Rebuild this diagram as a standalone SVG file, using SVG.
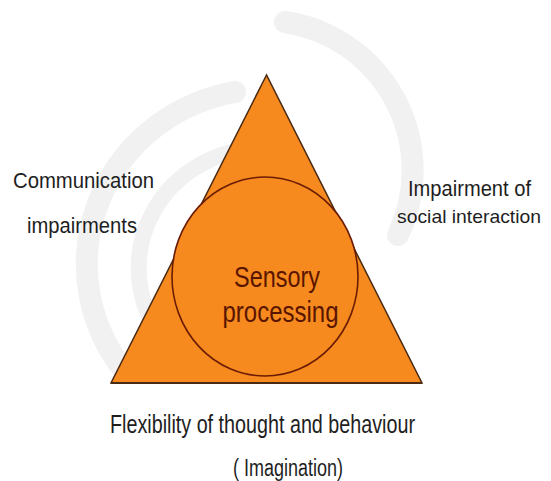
<svg xmlns="http://www.w3.org/2000/svg" width="551" height="481" viewBox="0 0 551 481">
<style>
.swirl{fill:none;stroke:#f1f1f1;stroke-linecap:round}
.lbl{font-family:"Liberation Sans",Arial,sans-serif;fill:#1e1e1e}
.inner{font-family:"Liberation Sans",Arial,sans-serif;fill:#5a1500;text-anchor:middle}
.shape{fill:#f68a1e}
</style>
<rect width="551" height="481" fill="#ffffff"/>
<g id="background">
<path class="swirl" stroke-width="22" d="M 285 22 A 150 150 0 0 1 398 235"/>
<path class="swirl" stroke-width="22" d="M 235 92 A 180 175 0 0 0 125 372"/>
<path class="swirl" stroke-width="16" d="M 262 148 A 125 120 0 0 0 160 335"/>
<path class="swirl" stroke-width="12" d="M 252 192 A 85 80 0 0 0 190 295"/>
</g>
<g id="connectors"/>
<g id="triangle">
<polygon class="shape" points="266.5,75 111,383 422,383" stroke="#4a2a12" stroke-width="1.5" stroke-linejoin="miter"/>
<line x1="111" y1="383" x2="422" y2="383" stroke="#4a2a12" stroke-width="2.2"/>
</g>
<g id="sensory-processing">
<ellipse class="shape" cx="265" cy="276.5" rx="93" ry="99.5" stroke="#6b1c05" stroke-width="1.6"/>
<text class="inner" x="277" y="286.5" font-size="30" textLength="86" lengthAdjust="spacingAndGlyphs">Sensory</text>
<text class="inner" x="280.5" y="321.5" font-size="30" textLength="116" lengthAdjust="spacingAndGlyphs">processing</text>
</g>
<g id="communication">
<text class="lbl" x="13" y="187.5" font-size="22" textLength="141" lengthAdjust="spacingAndGlyphs">Communication</text>
<text class="lbl" x="27" y="233" font-size="22" textLength="110" lengthAdjust="spacingAndGlyphs">impairments</text>
</g>
<g id="social">
<text class="lbl" x="531" y="195.5" font-size="22" text-anchor="end" textLength="123" lengthAdjust="spacingAndGlyphs">Impairment of</text>
<text class="lbl" x="541" y="223" font-size="19" text-anchor="end" textLength="144" lengthAdjust="spacingAndGlyphs">social interaction</text>
</g>
<g id="flexibility">
<text class="lbl" x="110" y="433" font-size="25" textLength="305" lengthAdjust="spacingAndGlyphs">Flexibility of thought and behaviour</text>
<text class="lbl" x="233" y="476" font-size="23" textLength="110" lengthAdjust="spacingAndGlyphs">( Imagination)</text>
</g>
</svg>
